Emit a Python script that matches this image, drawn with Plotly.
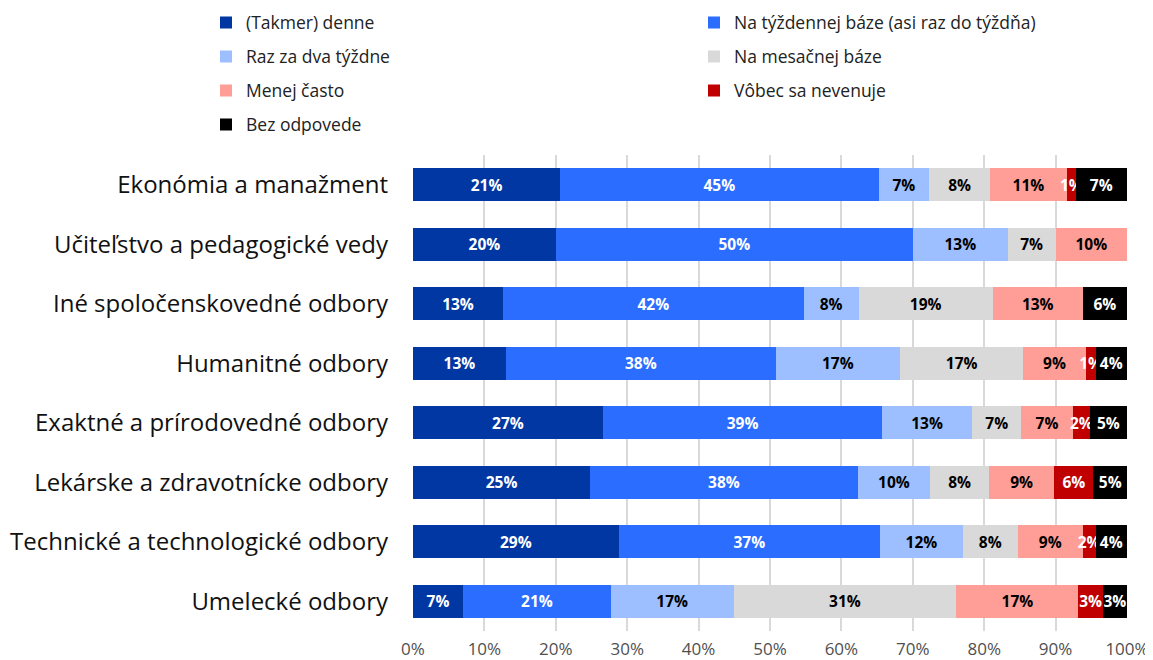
import plotly.graph_objects as go

FONT = "Open Sans, sans-serif"

fields = [
    "Ekonómia a manažment",
    "Učiteľstvo a pedagogické vedy",
    "Iné spoločenskovedné odbory",
    "Humanitné odbory",
    "Exaktné a prírodovedné odbory",
    "Lekárske a zdravotnícke odbory",
    "Technické a technologické odbory",
    "Umelecké odbory",
]

# shares in % per answer, same order as fields
daily = [20.6, 20.0, 12.6, 13.0, 26.6, 24.8, 28.8, 7.0]
weekly = [44.6, 50.0, 42.1, 37.8, 39.1, 37.5, 36.6, 20.7]
biweekly = [7.1, 13.3, 7.7, 17.4, 12.6, 10.1, 11.6, 17.2]
monthly = [8.5, 6.7, 18.8, 17.3, 6.9, 8.3, 7.7, 31.2]
less_often = [10.8, 10.0, 12.6, 8.7, 7.2, 9.1, 9.1, 17.1]
never = [1.2, 0.0, 0.0, 1.4, 2.4, 5.5, 1.8, 3.4]
no_answer = [7.2, 0.0, 6.2, 4.4, 5.2, 4.7, 4.4, 3.4]

series = [
    ("(Takmer) denne", daily, "#0037A3", "white"),
    ("Na týždennej báze (asi raz do týždňa)", weekly, "#2B6DFF", "white"),
    ("Raz za dva týždne", biweekly, "#9DBFFF", "black"),
    ("Na mesačnej báze", monthly, "#D9D9D9", "black"),
    ("Menej často", less_often, "#FF9E96", "black"),
    ("Vôbec sa nevenuje", never, "#C00000", "white"),
    ("Bez odpovede", no_answer, "#000000", "white"),
]

# the page body adds an 8px offset, so the figure is drawn slightly smaller
W, H = 1145, 652
ML, MR, MT, MB = 405, 26, 147, 29
PW, PH = W - ML - MR, H - MT - MB

# legend slots (pixel position of the legend box, 2 columns)
legend_pos = [(198, -3.5), (686, -3.5), (198, 30.5), (686, 30.5),
              (198, 64.5), (686, 64.5), (198, 98.5)]

fig = go.Figure()
layout_legends = {}
for i, (name, vals, color, tcolor) in enumerate(series):
    key = "legend" if i == 0 else f"legend{i + 1}"
    fig.add_trace(go.Bar(
        y=fields, x=vals, name=name, orientation="h",
        marker=dict(color=color, line=dict(width=0)),
        text=[f"{v:.0f}%" if v > 0 else "" for v in vals],
        textposition="inside", insidetextanchor="middle", textangle=0,
        textfont=dict(family=FONT, size=15.5, color=tcolor, weight="bold"),
        legend=key, hoverinfo="skip",
    ))
    px, py = legend_pos[i]
    layout_legends[key] = dict(
        x=(px - ML) / PW, y=(H - MB - py) / PH,
        xanchor="left", yanchor="top", bgcolor="rgba(0,0,0,0)",
        font=dict(family=FONT, size=17.5, color="#222"),
    )

fig.update_layout(
    barmode="stack",
    bargap=0.44,
    width=W, height=H,
    margin=dict(l=ML, r=MR, t=MT, b=MB, autoexpand=False),
    paper_bgcolor="white",
    plot_bgcolor="white",
    font=dict(family=FONT, color="#222"),
    uniformtext=dict(minsize=15.5, mode="show"),
    showlegend=True,
    **layout_legends,
)
fig.update_xaxes(
    range=[0, 100], dtick=10, ticksuffix="%", tickangle=0,
    showgrid=True, gridcolor="#D9D9D9", gridwidth=1.5,
    zeroline=False, showline=False, ticklabelstandoff=6,
    tickfont=dict(family=FONT, size=17, color="#505050"),
)
fig.update_yaxes(
    autorange="reversed", showgrid=False, showline=False,
    ticklabelstandoff=24,
    tickfont=dict(family=FONT, size=24, color="#111"),
)

fig.write_html("out.html")
